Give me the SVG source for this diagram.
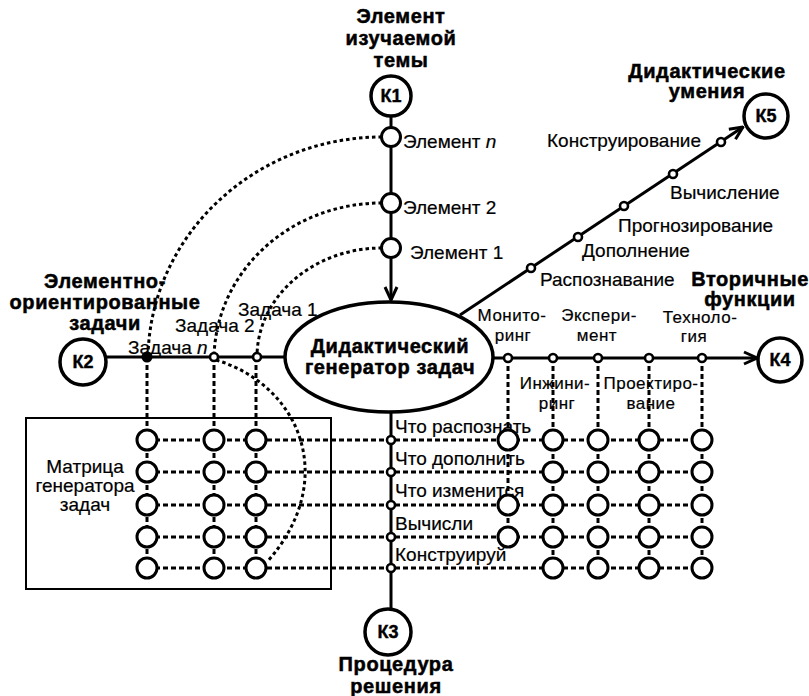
<svg xmlns="http://www.w3.org/2000/svg" width="809" height="696" viewBox="0 0 809 696">
<defs>
<marker id="chev" markerUnits="userSpaceOnUse" markerWidth="16" markerHeight="16" viewBox="0 0 16 16" refX="15" refY="8" orient="auto">
<path d="M2,2 L15,8 L2,14" fill="none" stroke="#000" stroke-width="3"/>
</marker>
<style>
.bt{font-family:"Liberation Sans",Arial,sans-serif;font-weight:bold;font-size:20px;letter-spacing:0.6px;fill:#000;stroke:#000;stroke-width:0.5;text-anchor:middle}
.rt{font-family:"Liberation Sans",Arial,sans-serif;font-size:19px;fill:#000;stroke:#000;stroke-width:0.2}
.ft{font-size:17px;letter-spacing:0.5px}
.mid{text-anchor:middle}
.kt{font-family:"Liberation Sans",Arial,sans-serif;font-weight:bold;font-size:18px;fill:#000;stroke:#000;stroke-width:0.4;text-anchor:middle}
.solid{stroke:#000;stroke-width:3;fill:none}
.dot{stroke:#000;stroke-width:3;fill:none;stroke-dasharray:5 3}
.arc{stroke:#000;stroke-width:3;fill:none;stroke-dasharray:3.5 3}
.kc{fill:#fff;stroke:#000;stroke-width:3.5}
.mc{fill:#fff;stroke:#000;stroke-width:3}
.sc{fill:#fff;stroke:#000;stroke-width:2.6}
</style>
</defs>
<rect width="809" height="696" fill="#fff"/>

<g id="matrix-frame">
<rect x="26" y="418" width="305" height="171" fill="none" stroke="#000" stroke-width="2"/>
</g>

<g id="connectors">
<line class="solid" x1="391" y1="117" x2="391" y2="300" marker-end="url(#chev)"/>
<line class="solid" x1="106" y1="357" x2="286" y2="357"/>
<line class="solid" x1="493" y1="358" x2="757" y2="358" marker-end="url(#chev)"/>
<line class="solid" x1="460" y1="315" x2="743" y2="127" marker-end="url(#chev)"/>
<line class="solid" x1="391" y1="412" x2="391" y2="611"/>
<path class="arc" d="M382,137 C254,137 150,236 148,357"/>
<path class="arc" d="M382,203 C289,203 216,272 214,357"/>
<path class="arc" d="M382,248 C313,248 257,297 257,357"/>
<path class="arc" d="M216,360 C300,385 340,480 267,562"/>
<line class="dot" x1="147" y1="357" x2="147" y2="568"/>
<line class="dot" x1="214" y1="357" x2="214" y2="568"/>
<line class="dot" x1="256" y1="357" x2="256" y2="568"/>
<line class="dot" x1="508" y1="358" x2="508" y2="537"/>
<line class="dot" x1="553" y1="358" x2="553" y2="568"/>
<line class="dot" x1="598" y1="358" x2="598" y2="568"/>
<line class="dot" x1="649" y1="358" x2="649" y2="568"/>
<line class="dot" x1="702" y1="358" x2="702" y2="568"/>
<line class="dot" x1="147" y1="440" x2="702" y2="440"/>
<line class="dot" x1="147" y1="472" x2="702" y2="472"/>
<line class="dot" x1="147" y1="505" x2="702" y2="505"/>
<line class="dot" x1="147" y1="537" x2="702" y2="537"/>
<line class="dot" x1="147" y1="568" x2="702" y2="568"/>
</g>

<g id="K1"><circle class="kc" cx="391" cy="96" r="20"/><text class="kt" x="391" y="102">К1</text></g>
<g id="K2"><circle class="kc" cx="83" cy="362" r="23"/><text class="kt" x="83" y="368">К2</text></g>
<g id="K3"><circle class="kc" cx="388" cy="632" r="23"/><text class="kt" x="388" y="638">К3</text></g>
<g id="K4"><circle class="kc" cx="780" cy="360" r="22"/><text class="kt" x="780" y="366">К4</text></g>
<g id="K5"><circle class="kc" cx="766" cy="116" r="22"/><text class="kt" x="766" y="122">К5</text></g>

<g id="generator">
<ellipse cx="389" cy="357" rx="104" ry="55" fill="#fff" stroke="#000" stroke-width="3.5"/>
<text class="bt" x="390" y="353">Дидактический</text>
<text class="bt" x="390" y="374">генератор задач</text>
</g>

<g id="titles">
<text class="bt" x="401" y="23">Элемент</text>
<text class="bt" x="401" y="45">изучаемой</text>
<text class="bt" x="401" y="67">темы</text>
<text class="bt" x="105" y="288">Элементно-</text>
<text class="bt" x="105" y="309">ориентированные</text>
<text class="bt" x="105" y="330">задачи</text>
<text class="bt" x="707" y="78">Дидактические</text>
<text class="bt" x="707" y="98">умения</text>
<text class="bt" x="750" y="286">Вторичные</text>
<text class="bt" x="750" y="306">функции</text>
<text class="bt" x="396" y="671">Процедура</text>
<text class="bt" x="396" y="693">решения</text>
</g>

<g id="elements">
<circle class="mc" cx="391" cy="137" r="9.5"/>
<circle class="mc" cx="391" cy="203" r="9.5"/>
<circle class="mc" cx="391" cy="248" r="9.5"/>
<text class="rt" x="403" y="148">Элемент <tspan font-style="italic">n</tspan></text>
<text class="rt" x="403" y="214">Элемент 2</text>
<text class="rt" x="410" y="259">Элемент 1</text>
</g>

<g id="skills">
<circle class="sc" cx="531" cy="268" r="4"/>
<circle class="sc" cx="578" cy="237" r="4"/>
<circle class="sc" cx="624" cy="206" r="4"/>
<circle class="sc" cx="673" cy="174" r="4"/>
<circle class="sc" cx="721" cy="142" r="4"/>
<text class="rt" x="547" y="147">Конструирование</text>
<text class="rt" x="670" y="199">Вычисление</text>
<text class="rt" x="618" y="232">Прогнозирование</text>
<text class="rt" x="582" y="257">Дополнение</text>
<text class="rt" x="540" y="286">Распознавание</text>
</g>

<g id="tasks">
<circle cx="147" cy="357" r="4.5" fill="#000" stroke="#000" stroke-width="2"/>
<circle class="sc" cx="214" cy="357" r="4"/>
<circle class="sc" cx="257" cy="357" r="4"/>
<text class="rt" x="238" y="316">Задача 1</text>
<text class="rt" x="175" y="332">Задача 2</text>
<text class="rt" x="128" y="354">Задача <tspan font-style="italic">n</tspan></text>
</g>

<g id="functions">
<circle class="sc" cx="508" cy="358" r="4"/>
<circle class="sc" cx="553" cy="358" r="4"/>
<circle class="sc" cx="598" cy="358" r="4"/>
<circle class="sc" cx="649" cy="358" r="4"/>
<circle class="sc" cx="702" cy="358" r="4"/>
<text class="rt ft mid" x="512" y="321">Монито-</text>
<text class="rt ft mid" x="513" y="341">ринг</text>
<text class="rt ft mid" x="599" y="321">Экспери-</text>
<text class="rt ft mid" x="597" y="341">мент</text>
<text class="rt ft mid" x="700" y="323">Техноло-</text>
<text class="rt ft mid" x="694" y="342">гия</text>
<text class="rt ft mid" x="555" y="389">Инжини-</text>
<text class="rt ft mid" x="557" y="409">ринг</text>
<text class="rt ft mid" x="651" y="389">Проектиро-</text>
<text class="rt ft mid" x="651" y="409">вание</text>
</g>

<g id="procedures">
<circle class="sc" cx="391" cy="440" r="4"/>
<circle class="sc" cx="391" cy="472" r="4"/>
<circle class="sc" cx="391" cy="505" r="4"/>
<circle class="sc" cx="391" cy="537" r="4"/>
<circle class="sc" cx="391" cy="568" r="4"/>
<text class="rt" x="395" y="433">Что распознать</text>
<text class="rt" x="395" y="465">Что дополнить</text>
<text class="rt" x="395" y="497">Что изменится</text>
<text class="rt" x="395" y="530">Вычисли</text>
<text class="rt" x="395" y="561">Конструируй</text>
</g>

<g id="matrix">
<text class="rt mid" x="85" y="473">Матрица</text>
<text class="rt mid" x="85" y="492">генератора</text>
<text class="rt mid" x="85" y="511">задач</text>
<circle class="mc" cx="147" cy="440" r="10"/><circle class="mc" cx="214" cy="440" r="10"/><circle class="mc" cx="256" cy="440" r="10"/>
<circle class="mc" cx="147" cy="472" r="10"/><circle class="mc" cx="214" cy="472" r="10"/><circle class="mc" cx="256" cy="472" r="10"/>
<circle class="mc" cx="147" cy="505" r="10"/><circle class="mc" cx="214" cy="505" r="10"/><circle class="mc" cx="256" cy="505" r="10"/>
<circle class="mc" cx="147" cy="537" r="10"/><circle class="mc" cx="214" cy="537" r="10"/><circle class="mc" cx="256" cy="537" r="10"/>
<circle class="mc" cx="147" cy="568" r="10"/><circle class="mc" cx="214" cy="568" r="10"/><circle class="mc" cx="256" cy="568" r="10"/>
<circle class="mc" cx="508" cy="440" r="10"/><circle class="mc" cx="553" cy="440" r="10"/><circle class="mc" cx="598" cy="440" r="10"/><circle class="mc" cx="649" cy="440" r="10"/><circle class="mc" cx="702" cy="440" r="10"/>
<circle class="mc" cx="553" cy="472" r="10"/><circle class="mc" cx="598" cy="472" r="10"/><circle class="mc" cx="649" cy="472" r="10"/><circle class="mc" cx="702" cy="472" r="10"/>
<circle class="mc" cx="508" cy="505" r="10"/><circle class="mc" cx="553" cy="505" r="10"/><circle class="mc" cx="598" cy="505" r="10"/><circle class="mc" cx="649" cy="505" r="10"/><circle class="mc" cx="702" cy="505" r="10"/>
<circle class="mc" cx="508" cy="537" r="10"/><circle class="mc" cx="553" cy="537" r="10"/><circle class="mc" cx="598" cy="537" r="10"/><circle class="mc" cx="649" cy="537" r="10"/><circle class="mc" cx="702" cy="537" r="10"/>
<circle class="mc" cx="553" cy="568" r="10"/><circle class="mc" cx="598" cy="568" r="10"/><circle class="mc" cx="649" cy="568" r="10"/><circle class="mc" cx="702" cy="568" r="10"/>
</g>
</svg>
